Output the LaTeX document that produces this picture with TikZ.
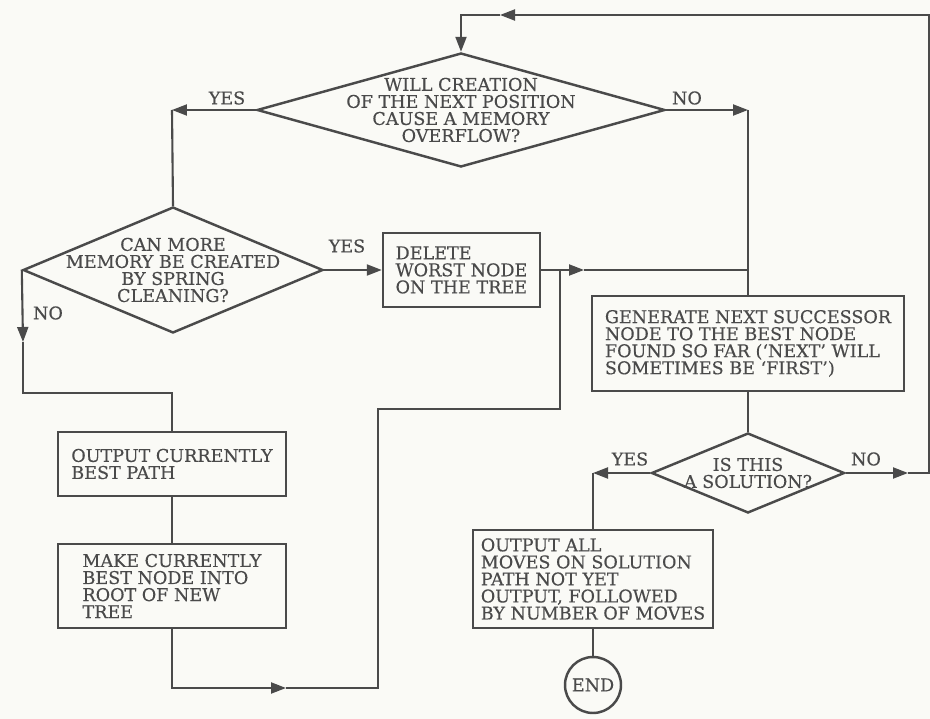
\documentclass[tikz,border=0pt]{standalone}
\usepackage{fontspec}
\setmainfont{DejaVu Serif}[FakeBold=0.35]
\usepackage{tikz}
\usetikzlibrary{shapes.geometric,arrows.meta}
\definecolor{ink}{HTML}{4A4A4A}
\definecolor{paper}{HTML}{FAFAF6}

\begin{document}
\begin{tikzpicture}[x=0.02cm,y=-0.02cm,color=ink,line width=1.2pt,
  >={Triangle[length=0.3cm,width=0.22cm]},
  txt/.style={font=\fontsize{10}{9.7}\selectfont},
  box/.style={draw,line width=1.4pt,align=left,inner sep=0pt,txt},
  decision/.style={diamond,draw,line width=1.4pt,inner sep=0pt},
  qtext/.style={align=center,inner sep=0pt,txt}]
\fill[paper] (0,0) rectangle (930,719);
\useasboundingbox (0,0) rectangle (930,719);
\node[decision,minimum width=8.16cm,minimum height=2.28cm,
  label={[qtext]center:{WILL CREATION\\OF THE NEXT POSITION\\CAUSE A MEMORY\\OVERFLOW?}}] (overflow) at (461,110) {};
\node[decision,minimum width=6.0cm,minimum height=2.52cm,
  label={[qtext]center:{CAN MORE\\MEMORY BE CREATED\\BY SPRING\\CLEANING?}}] (spring) at (173,270) {};
\node[decision,minimum width=3.86cm,minimum height=1.6cm,
  label={[qtext]center:{IS THIS\\A SOLUTION?}}] (solved) at (748,473) {};
\node[box,minimum width=3.14cm,minimum height=1.48cm] (delete) at (461.5,270) {DELETE\\WORST NODE\\ON THE TREE};
\node[box,minimum width=6.24cm,minimum height=1.9cm] (generate) at (748,343.5) {GENERATE NEXT SUCCESSOR\\NODE TO THE BEST NODE\\FOUND SO FAR (‘NEXT’ WILL\\SOMETIMES BE ‘FIRST’)};
\node[box,minimum width=4.56cm,minimum height=1.28cm] (best) at (172,464) {OUTPUT CURRENTLY\\BEST PATH};
\node[box,minimum width=4.56cm,minimum height=1.68cm] (root) at (172,586) {MAKE CURRENTLY\\BEST NODE INTO\\ROOT OF NEW\\TREE};
\node[box,minimum width=4.8cm,minimum height=1.96cm] (output) at (593,579) {OUTPUT ALL\\MOVES ON SOLUTION\\PATH NOT YET\\OUTPUT, FOLLOWED\\BY NUMBER OF MOVES};
\node[circle,draw,line width=1.4pt,minimum size=1.12cm,inner sep=0pt,txt] (finish) at (593,685) {END};
\node[txt] (yesA) at (227,98) {YES};
\node[txt] (noA) at (687,98) {NO};
\node[txt] (yesB) at (347,246) {YES};
\node[txt] (noB) at (48,313) {NO};
\node[txt] (yesC) at (630,459) {YES};
\node[txt] (noC) at (866,459) {NO};
\coordinate (yesBend) at (172,110);
\coordinate (noBend) at (748,110);
\coordinate (noDown) at (23,342);
\coordinate (noFoot) at (23,393);
\coordinate (delTip) at (584,270);
\coordinate (genJoin) at (748,270);
\coordinate (rootTip) at (286,688);
\coordinate (backFoot) at (378,688);
\coordinate (backTop) at (378,409);
\coordinate (joinLow) at (560,409);
\coordinate (joinHigh) at (560,270);
\coordinate (yesBend2) at (593,473);
\coordinate (noTip) at (908,473);
\coordinate (rimLow) at (929,473);
\coordinate (rimTop) at (929,15);
\coordinate (topTip) at (500,15);
\draw[->] (solved.east) -- (noTip);
\draw[->] (noTip) -- (rimLow) -- (rimTop) -- (topTip);
\draw[->] (topTip) -| (overflow.north);
\draw[->] (overflow.west) -- (yesBend);
\draw (yesBend) -- (spring.north);
\draw[->] (overflow.east) -- (noBend);
\draw (noBend) -- (generate.north);
\draw[->] (spring.east) -- (delete.west);
\draw[->] (spring.west) -- (noDown);
\draw (noDown) -- (noFoot) -| (best.north);
\draw (best.south) -- (root.north);
\draw[->] (root.south) |- (rootTip);
\draw (rootTip) -- (backFoot) -- (backTop) -- (joinLow) -- (joinHigh);
\draw[->] (delete.east) -- (delTip);
\draw (delTip) -- (genJoin);
\draw (generate.south) -- (solved.north);
\draw[->] (solved.west) -- (yesBend2);
\draw (yesBend2) -- (output.north);
\draw (output.south) -- (finish.north);
\end{tikzpicture}
\end{document}
